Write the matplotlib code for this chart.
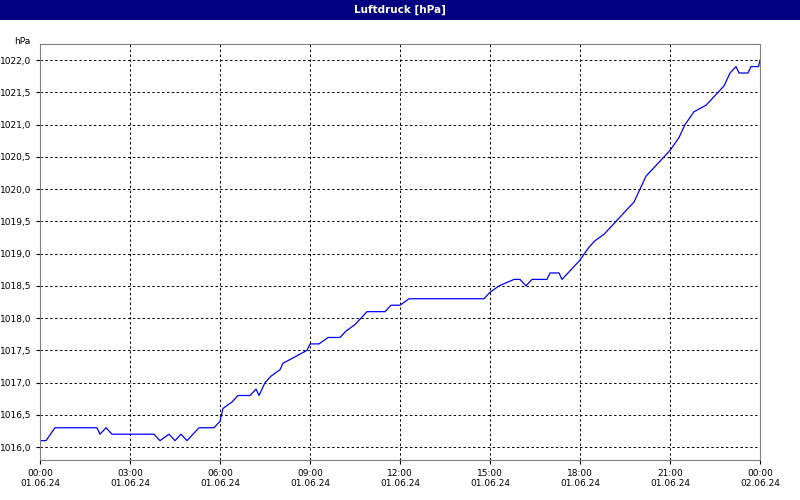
import matplotlib.pyplot as plt
import matplotlib.patches as mpatches

# Luftdruck series: hours since 01.06.24 00:00, pressure in hPa
hours = [0.0, 0.2, 0.35, 0.5, 1.9, 2.0, 2.2, 2.4, 3.8, 4.0, 4.3, 4.5, 4.7, 4.9, 5.1, 5.3,
         5.8, 6.0, 6.1, 6.4, 6.6, 7.0, 7.2, 7.3, 7.5, 7.7, 8.0, 8.1, 8.5, 8.9, 9.0, 9.3,
         9.6, 10.0, 10.2, 10.5, 10.7, 10.9, 11.5, 11.7, 12.0, 12.3, 14.8, 15.0, 15.3,
         15.8, 16.0, 16.2, 16.4, 16.9, 17.0, 17.3, 17.4, 17.6, 17.8, 18.0, 18.3, 18.5,
         18.8, 19.0, 19.2, 19.4, 19.6, 19.8, 20.0, 20.2, 20.4, 20.6, 20.8, 21.0, 21.3,
         21.5, 21.8, 22.2, 22.4, 22.8, 23.0, 23.2, 23.3, 23.6, 23.7, 23.95, 24.0]
pressure = [1016.1, 1016.1, 1016.2, 1016.3, 1016.3, 1016.2, 1016.3, 1016.2, 1016.2, 1016.1,
            1016.2, 1016.1, 1016.2, 1016.1, 1016.2, 1016.3, 1016.3, 1016.4, 1016.6, 1016.7,
            1016.8, 1016.8, 1016.9, 1016.8, 1017.0, 1017.1, 1017.2, 1017.3, 1017.4, 1017.5,
            1017.6, 1017.6, 1017.7, 1017.7, 1017.8, 1017.9, 1018.0, 1018.1, 1018.1, 1018.2,
            1018.2, 1018.3, 1018.3, 1018.4, 1018.5, 1018.6, 1018.6, 1018.5, 1018.6, 1018.6,
            1018.7, 1018.7, 1018.6, 1018.7, 1018.8, 1018.9, 1019.1, 1019.2, 1019.3, 1019.4,
            1019.5, 1019.6, 1019.7, 1019.8, 1020.0, 1020.2, 1020.3, 1020.4, 1020.5, 1020.6,
            1020.8, 1021.0, 1021.2, 1021.3, 1021.4, 1021.6, 1021.8, 1021.9, 1021.8, 1021.8,
            1021.9, 1021.9, 1022.0]

tick_hours = [0, 3, 6, 9, 12, 15, 18, 21, 24]
tick_labels = ["00:00\n01.06.24", "03:00\n01.06.24", "06:00\n01.06.24", "09:00\n01.06.24",
               "12:00\n01.06.24", "15:00\n01.06.24", "18:00\n01.06.24", "21:00\n01.06.24",
               "00:00\n02.06.24"]
y_ticks = [1016.0 + 0.5 * i for i in range(13)]

fig = plt.figure(figsize=(8, 5), dpi=100)
fig.patch.set_facecolor("white")

# navy title bar
fig.patches.append(mpatches.Rectangle((0, 1 - 20 / 500), 1, 20 / 500, transform=fig.transFigure,
                                      facecolor="#000080", edgecolor="none"))
fig.text(0.5, 1 - 10 / 500, "Luftdruck [hPa]", color="white", fontsize=7.5, fontweight="bold",
         ha="center", va="center")

ax = fig.add_axes([40 / 800, 40 / 500, 720 / 800, 416 / 500])
ax.plot(hours, pressure, color="blue", linewidth=0.9)
ax.set_xlim(0, 24)
ax.set_ylim(1015.8, 1022.25)
ax.set_xticks(tick_hours)
ax.set_xticklabels(tick_labels)
ax.set_yticks(y_ticks)
ax.set_yticklabels([f"{v:.1f}".replace(".", ",") for v in y_ticks])
ax.tick_params(labelsize=6.5, length=3, color="black")
ax.grid(True, color="black", linestyle=(0, (2.5, 2.5)), linewidth=0.7)
for s in ax.spines.values():
    s.set_color("#808080")
fig.text(30 / 800, 1 - 46 / 500, "hPa", fontsize=6.5, ha="right", va="bottom")

plt.savefig("out.png", dpi=100)
